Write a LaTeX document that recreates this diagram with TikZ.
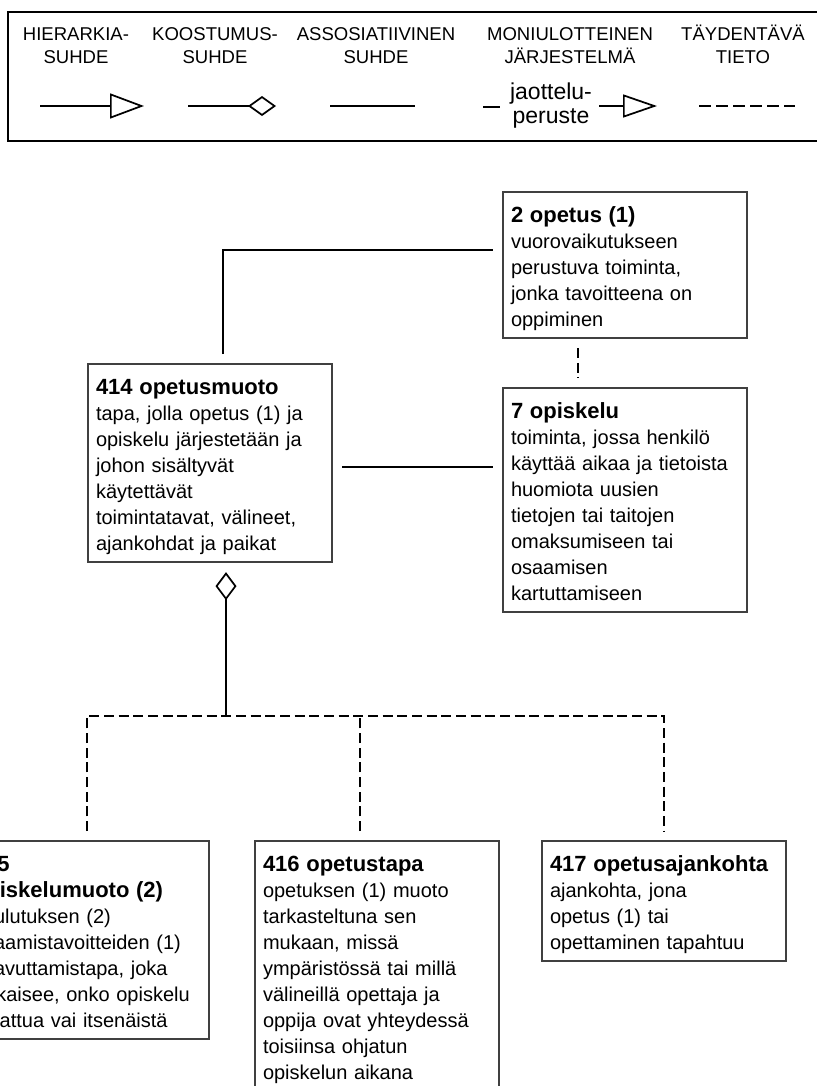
\documentclass[tikz,border=0pt]{standalone}
\usepackage{fontspec}
\setmainfont{Liberation Sans}
\usetikzlibrary{arrows.meta,calc}

\newcommand{\termi}[2]{\rule{0pt}{16.5pt}\textbf{\fontsize{16.5}{19.5}\selectfont #1}\\#2\rule[-3pt]{0pt}{3pt}}

\begin{document}
\begin{tikzpicture}[x=0.75pt, y=-0.75pt,
  kasite/.style={draw=black!75, line width=1pt, anchor=north west, text width=171pt,
    inner sep=6pt, align=left, outer sep=7.5pt, font=\fontsize{15}{19.5}\selectfont},
  selite/.style={align=center, inner sep=0pt, anchor=base, font=\fontsize{13.9}{17.25}\selectfont},
  yhteys/.style={line width=1.3pt},
  lisatieto/.style={line width=1.3pt, dash pattern=on 7.5pt off 3.5pt},
  kooste/.style={line width=1.3pt, {Diamond[open,length=21pt,width=15.75pt]}-}]
  \useasboundingbox (0,0) rectangle (817,1086);
  \clip (0,0) rectangle (817,1086);

  \draw[line width=1.6pt] (8,12) rectangle (830,141);
  \node[selite] (hier) at (76,63) {HIERARKIA-\\SUHDE};
  \node[selite] (koost) at (215,63) {KOOSTUMUS-\\SUHDE};
  \node[selite] (assos) at (376,63) {ASSOSIATIIVINEN\\SUHDE};
  \node[selite] (moni) at (570,63) {MONIULOTTEINEN\\JÄRJESTELMÄ};
  \node[selite] (tayd) at (743,63) {TÄYDENTÄVÄ\\TIETO};
  \node[selite, font=\fontsize{17.25}{18}\selectfont] (peruste) at (551,123) {jaottelu-\\peruste};

  \draw[yhteys, -{Triangle[open,length=25.5pt,width=18.75pt]}] (40,106) -- (144,106);
  \draw[yhteys, -{Diamond[open,length=21pt,width=15pt]}] (188,106) -- (276,106);
  \draw[yhteys] (330,106) -- (415,106);
  \draw[yhteys] (483,107) -- (500,107);
  \draw[yhteys, -{Triangle[open,length=25.5pt,width=17.25pt]}] (599,106) -- (657,106);
  \draw[lisatieto, dash pattern=on 9pt off 3.75pt] (699,106) -- (795,106);

  \node[kasite] (opetus) at (493,182)
    {\termi{2 opetus (1)}{vuorovaikutukseen\\perustuva toiminta,\\jonka tavoitteena on\\oppiminen}};
  \node[kasite] (opiskelu) at (493,378)
    {\termi{7 opiskelu}{toiminta, jossa henkilö\\käyttää aikaa ja tietoista\\huomiota uusien\\tietojen tai taitojen\\omaksumiseen tai\\osaamisen\\kartuttamiseen}};
  \node[kasite] (muoto) at (78,354)
    {\termi{414 opetusmuoto}{tapa, jolla opetus (1) ja\\opiskelu järjestetään ja\\johon sisältyvät\\käytettävät\\toimintatavat, välineet,\\ajankohdat ja paikat}};
  \node[kasite] (o415) at (-45,831)
    {\termi{415\\opiskelumuoto (2)}{koulutuksen (2)\\osaamistavoitteiden (1)\\saavuttamistapa, joka\\ratkaisee, onko opiskelu\\ohjattua vai itsenäistä}};
  \node[kasite] (o416) at (245,831)
    {\termi{416 opetustapa}{opetuksen (1) muoto\\tarkasteltuna sen\\mukaan, missä\\ympäristössä tai millä\\välineillä opettaja ja\\oppija ovat yhteydessä\\toisiinsa ohjatun\\opiskelun aikana}};
  \node[kasite] (o417) at (532,831)
    {\termi{417 opetusajankohta}{ajankohta, jona\\opetus (1) tai\\opettaminen tapahtuu}};

  \draw[yhteys] ([xshift=9.75pt]muoto.north) |- ([yshift=11.25pt]opetus.west);
  \coordinate (m1) at ([yshift=-3pt]muoto.east);
  \draw[yhteys] (m1) -- (m1 -| opiskelu.west);
  \draw[lisatieto] ([xshift=-35pt]opetus.south) -- ([xshift=-35pt]opiskelu.north);

  \coordinate (haara) at (226,716);
  \draw[kooste] ([xshift=12pt]muoto.south) -- (haara);
  \draw[lisatieto] (o415.north) |- (haara) -| (o417.north);
  \coordinate (h416) at ([xshift=-12.75pt]o416.north);
  \draw[lisatieto] (h416) -- (h416 |- haara);
\end{tikzpicture}
\end{document}
